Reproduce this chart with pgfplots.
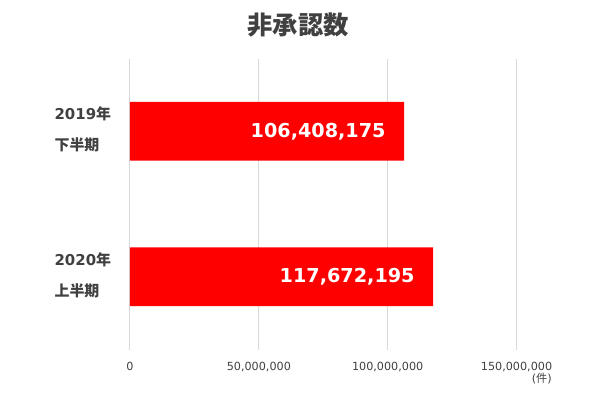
\documentclass[border=0pt]{standalone}
\usepackage{fontspec}
\usepackage{pgfplots}
\usepackage{pgfplotstable}
\pgfplotsset{compat=1.18}
\setmainfont{DejaVu Sans}
\newfontfamily\cjk{Noto Sans CJK JP}
\definecolor{txt}{HTML}{404040}
\definecolor{barred}{HTML}{FF0000}
\definecolor{gridc}{HTML}{D9D9D9}

% half-year totals (cases)
\pgfplotstableread{
c v lab
0 106408175 106,408,175
1 117672195 117,672,195
}\datatable

\begin{document}
\begin{tikzpicture}
\useasboundingbox (-97.5pt,-38.625pt) rectangle (354pt,262.125pt);
\begin{axis}[
  scale only axis,
  width=289.9pt, height=218.25pt,
  clip=false,
  xbar, bar width=43.9pt,
  xmin=0, xmax=150000000,
  ymin=-0.5, ymax=1.5, y dir=reverse,
  axis line style={draw=none},
  tick style={draw=none},
  xmajorgrids, major grid style={gridc, line width=0.75pt},
  scaled x ticks=false,
  xtick={0,50000000,100000000,150000000},
  xticklabels={0,{50,000,000},{100,000,000},{150,000,000}},
  xticklabel style={anchor=base, yshift=-15.9pt, font=\fontsize{8.4}{10}\selectfont, text=txt},
  ytick={0,1},
  yticklabels={{2019{\cjk 年}\\{\cjk 下半期}},{2020{\cjk 年}\\{\cjk 上半期}}},
  yticklabel style={align=left, anchor=west, xshift=-52.5pt, yshift=1.2pt, inner sep=0pt,
    font=\fontsize{11.2}{23.25}\selectfont\bfseries, text=txt},
  point meta=explicit symbolic,
  nodes near coords,
  nodes near coords style={anchor=east, xshift=-13.8pt, inner sep=0pt, text=white,
    font=\fontsize{14.4}{16}\selectfont\bfseries},
]
\addplot[fill=barred, draw=none] table[x=v, y=c, meta=lab] {\datatable};
\node[anchor=base east, inner sep=0pt, text=txt, font=\fontsize{8.4}{10}\selectfont]
  at (rel axis cs:1,0) [xshift=26.6pt, yshift=-25.1pt] {({\cjk 件})};
\end{axis}
\node[text=txt, font=\fontsize{19}{22}\selectfont\bfseries\cjk] at (126pt,243.4pt) {非承認数};
\end{tikzpicture}
\end{document}
